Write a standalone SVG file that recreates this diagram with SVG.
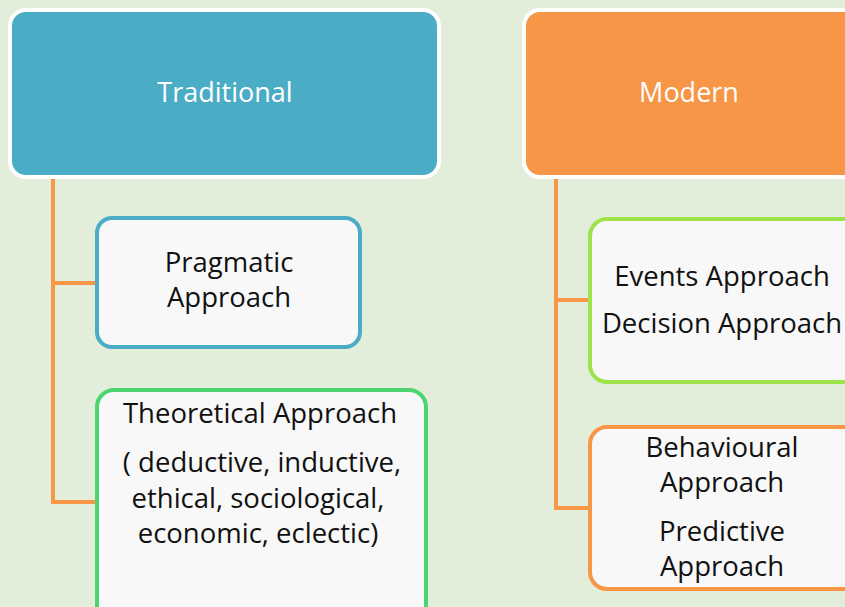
<svg xmlns="http://www.w3.org/2000/svg" width="845" height="607" viewBox="0 0 845 607">
  <style>
    .head { font-family: "Open Sans", "Liberation Sans", sans-serif; font-size: 27px; fill: #ffffff; text-anchor: middle; }
    .body { font-family: "Open Sans", "Liberation Sans", sans-serif; font-size: 27.5px; fill: #111111; text-anchor: middle; }
    .card { fill: #f8f8f8; stroke-width: 4; }
    .link { fill: none; stroke: #f79646; stroke-width: 4; }
  </style>
  <rect width="845" height="607" fill="#e2eed9"/>

  <g id="connectors">
    <path class="link" d="M53 176 V502 H97 M53 283 H97"/>
    <path class="link" d="M556 176 V508 H590 M556 300 H590"/>
  </g>

  <g id="traditional">
    <rect x="10" y="10" width="429" height="167" rx="16" fill="#4bacc6" stroke="#ffffff" stroke-width="4"/>
    <text class="head" x="225" y="102">Traditional</text>
  </g>

  <g id="modern">
    <rect x="524" y="10" width="340" height="167" rx="16" fill="#f79646" stroke="#ffffff" stroke-width="4"/>
    <text class="head" x="689" y="102">Modern</text>
  </g>

  <g id="pragmatic">
    <rect class="card" x="97" y="218" width="263" height="129" rx="15" stroke="#4bacc6"/>
    <text class="body" x="229" y="272">Pragmatic</text>
    <text class="body" x="229" y="307">Approach</text>
  </g>

  <g id="theoretical">
    <rect class="card" x="97" y="390" width="329" height="240" rx="17" stroke="#4cd46e"/>
    <text class="body" x="260" y="423">Theoretical Approach</text>
    <text class="body" x="262" y="472">( deductive, inductive,</text>
    <text class="body" x="258" y="508">ethical, sociological,</text>
    <text class="body" x="258" y="543">economic, eclectic)</text>
  </g>

  <g id="events">
    <rect class="card" x="590" y="219" width="280" height="163" rx="17" stroke="#9ee34a"/>
    <text class="body" x="722" y="286">Events Approach</text>
    <text class="body" x="722" y="333">Decision Approach</text>
  </g>

  <g id="behavioural">
    <rect class="card" x="590" y="427" width="280" height="162" rx="17" stroke="#f79646"/>
    <text class="body" x="722" y="457">Behavioural</text>
    <text class="body" x="722" y="492">Approach</text>
    <text class="body" x="722" y="541">Predictive</text>
    <text class="body" x="722" y="576">Approach</text>
  </g>
</svg>
